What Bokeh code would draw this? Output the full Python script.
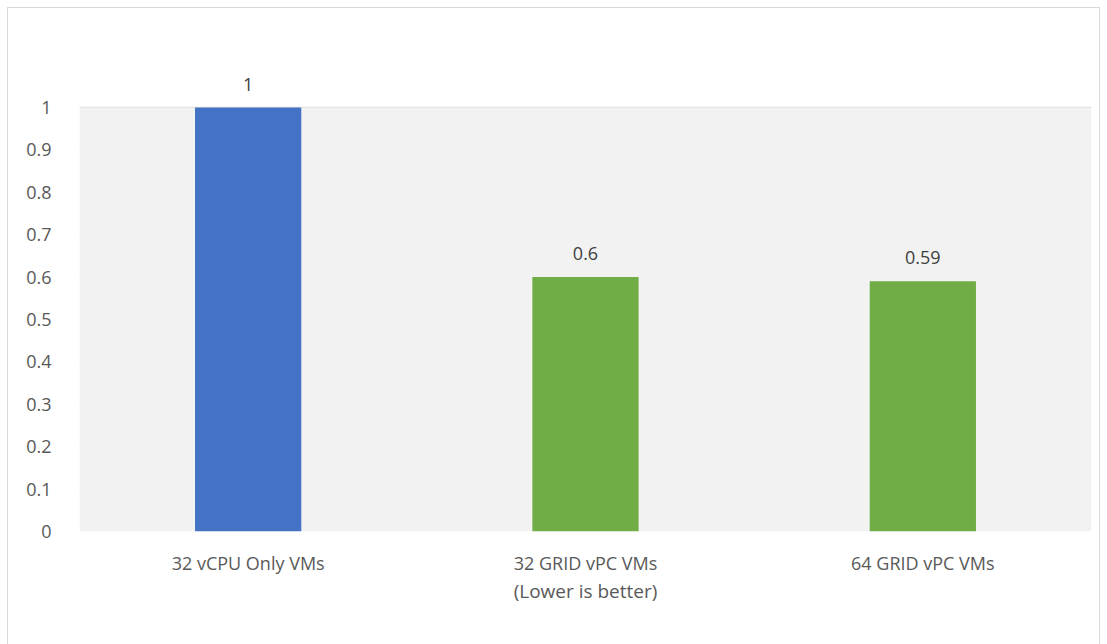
from bokeh.plotting import figure
from bokeh.models import ColumnDataSource, FixedTicker, LabelSet, BoxAnnotation
from bokeh.core.properties import value
from bokeh.embed import file_html
from bokeh.resources import INLINE

categories = ["32 vCPU Only VMs", "32 GRID vPC VMs", "64 GRID vPC VMs"]
values = [1.0, 0.6, 0.59]
labels = ["1", "0.6", "0.59"]
colors = ["#4472C4", "#70AD47", "#70AD47"]
y_ticks = [0, 0.1, 0.2, 0.3, 0.4, 0.5, 0.6, 0.7, 0.8, 0.9, 1.0]

FONT = "Open Sans"

src = ColumnDataSource(dict(cat=categories, val=values, lab=labels, col=colors))

y_top = max(y_ticks)
extra = 46 / 424 * y_top

p = figure(x_range=categories, y_range=(0, y_top + extra), output_backend="svg",
           toolbar_location=None, frame_width=1012, frame_height=470,
           min_border_left=71, min_border_right=8, min_border_top=53,
           min_border_bottom=114, background_fill_color="white",
           border_fill_color="white", outline_line_color=None,
           styles={"border": "1px solid #d9d9d9"})
p.margin = (7, 0, 0, 7)

p.add_layout(BoxAnnotation(bottom=0, top=y_top, fill_color="#f2f2f2",
                           fill_alpha=1.0, line_color=None, level="underlay"))

p.vbar(x="cat", top="val", width=0.315, source=src, fill_color="col",
       line_color=None)

lbl = LabelSet(x="cat", y="val", text="lab", source=src, text_align="center",
               text_baseline="bottom", y_offset=17, text_font=value(FONT),
               text_font_size="18px", text_color="#404040")
p.add_layout(lbl)

p.xgrid.grid_line_color = None
p.ygrid.grid_line_color = "#d9d9d9"
p.ygrid.grid_line_width = 1.5
p.yaxis.ticker = FixedTicker(ticks=y_ticks)
p.yaxis.major_label_overrides = {0: "0", 1.0: "1"}

for ax in (p.xaxis, p.yaxis):
    ax.axis_line_color = None
    ax.major_tick_line_color = None
    ax.minor_tick_line_color = None
    ax.major_label_text_font = FONT
    ax.major_label_text_font_size = "18px"
    ax.major_label_text_color = "#595959"

p.yaxis.major_label_standoff = 22
p.xaxis.major_label_standoff = 13
p.xaxis.axis_label = "(Lower is better)"
p.xaxis.axis_label_text_font = FONT
p.xaxis.axis_label_text_font_size = "19px"
p.xaxis.axis_label_text_font_style = "normal"
p.xaxis.axis_label_text_color = "#595959"
p.xaxis.axis_label_standoff = 0

open("out.html", "w").write(file_html(p, INLINE))
